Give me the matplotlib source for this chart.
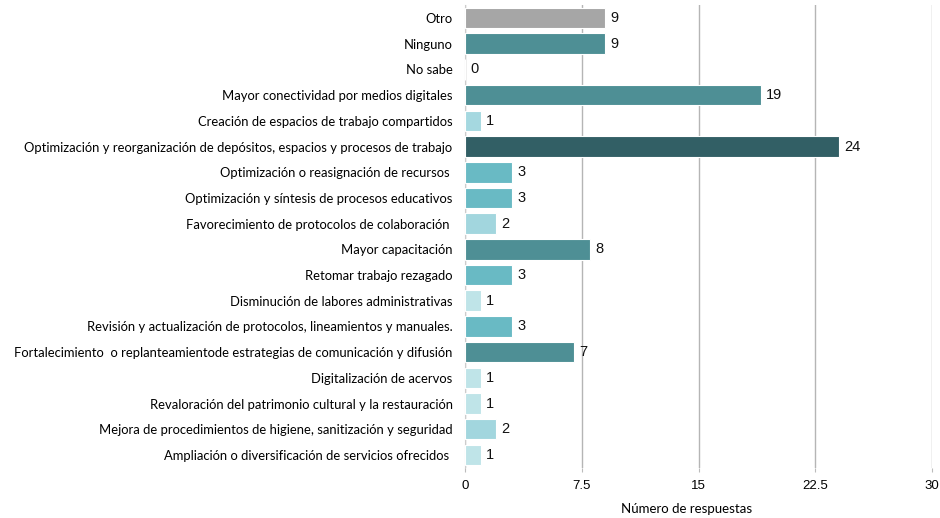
import numpy as np
import matplotlib
matplotlib.use('Agg')
import matplotlib.pyplot as plt

categorias = [
    'Otro',
    'Ninguno',
    'No sabe',
    'Mayor conectividad por medios digitales',
    'Creación de espacios de trabajo compartidos',
    'Optimización y reorganización de depósitos, espacios y procesos de trabajo',
    'Optimización o reasignación de recursos ',
    'Optimización y síntesis de procesos educativos',
    'Favorecimiento de protocolos de colaboración ',
    'Mayor capacitación',
    'Retomar trabajo rezagado',
    'Disminución de labores administrativas',
    'Revisión y actualización de protocolos, lineamientos y manuales.',
    'Fortalecimiento  o replanteamientode estrategias de comunicación y difusión',
    'Digitalización de acervos',
    'Revaloración del patrimonio cultural y la restauración',
    'Mejora de procedimientos de higiene, sanitización y seguridad',
    'Ampliación o diversificación de servicios ofrecidos ',
]
respuestas = [9, 9, 0, 19, 1, 24, 3, 3, 2, 8, 3, 1, 3, 7, 1, 1, 2, 1]
ticks_x = [0, 7.5, 15, 22.5, 30]
ticks_x_txt = ['0', '7.5', '15', '22.5', '30']

colores = ['#a6a6a6', '#4e8f95', '#4e8f95', '#4e8f95', '#a5d8e0', '#325f65',
           '#69bac4', '#69bac4', '#a2d6de', '#4e8f95', '#69bac4', '#bfe4e8',
           '#69bac4', '#4e8f95', '#bfe4e8', '#bfe4e8', '#a2d6de', '#bfe4e8']

fig = plt.figure(figsize=(9.4, 5.18), dpi=100)
ax = fig.add_axes([0.4947, 0.097, 0.4968, 0.893])

y = np.arange(len(categorias))
ax.barh(y, respuestas, height=0.8, color=colores, edgecolor='white', linewidth=0.8, zorder=3)
ax.set_ylim(len(categorias) - 0.5, -0.5)
ax.set_xlim(0, 30)

for yi, v in zip(y, respuestas):
    ax.text(v + 0.35, yi, str(v), va='center', ha='left', fontsize=10.5,
            family='Liberation Sans', color='#111111')

ax.set_yticks(y)
ax.set_yticklabels(categorias, fontsize=9.4, family='Lato')
ax.tick_params(axis='y', length=0, pad=9)
ax.set_xticks(ticks_x)
ax.set_xticklabels(ticks_x_txt, fontsize=9.5, family='Liberation Sans')
ax.tick_params(axis='x', length=3, color='#bbbbbb', pad=6)
ax.grid(axis='x', color='#b5b5b5', linewidth=1, zorder=0)
for s in ['top', 'right', 'bottom']:
    ax.spines[s].set_visible(False)
ax.spines['left'].set_color('#cccccc')
ax.set_xlabel('Número de respuestas', fontsize=9.5, family='Lato')
ax.xaxis.set_label_coords(0.475, -0.077)

fig.savefig('out.png', dpi=100)
